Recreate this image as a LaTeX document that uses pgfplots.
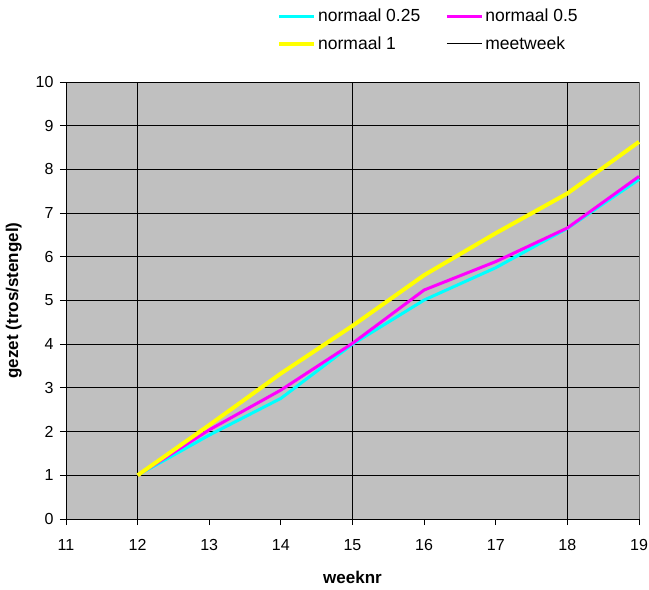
\documentclass[border=0pt]{standalone}
\usepackage{pgfplots}
\pgfplotsset{compat=1.18}
\usepackage{fontspec}
\setmainfont{Liberation Sans}
\definecolor{plotbg}{HTML}{C0C0C0}
\definecolor{cy}{HTML}{00FFFF}
\definecolor{mg}{HTML}{FF00FF}
\definecolor{yl}{HTML}{FFFF00}
\begin{document}
\begin{tikzpicture}
\begin{axis}[
  name=ax,
  scale only axis, width=573bp, height=437bp,
  xmin=11, xmax=19, ymin=0, ymax=10,
  xtick={11,...,19}, ytick={0,...,10},
  axis lines=left, axis line style={-, black, line width=0.8bp},
  axis background/.style={fill=plotbg, draw=gray!80!black},
  ymajorgrids, grid style={black, line width=0.8bp},
  tick align=outside, major tick length=6bp, tick style={black, line width=0.8bp},
  /pgf/number format/assume math mode=true,
  tick label style={font=\fontsize{16bp}{19bp}\selectfont},
  xticklabel style={yshift=-11bp},
  yticklabel style={xshift=-3bp},
  label style={font=\fontsize{17bp}{20bp}\selectfont\bfseries},
  xlabel={weeknr}, ylabel={gezet (tros/stengel)},
  xlabel style={yshift=-13bp},
  ylabel style={yshift=7bp},
  legend columns=2,
  legend cell align=left,
  legend style={draw=none, fill=none, at={(rel axis cs:0,1)}, anchor=north west,
    xshift=208bp, yshift=77bp, row sep=9.5bp,
    font=\fontsize{17.5bp}{21bp}\selectfont,
    /tikz/every even column/.append style={column sep=23bp}},
  legend image code/.code={\draw[#1] (0bp,0bp) -- (35bp,0bp);},
  clip=false,
]
\addplot[black, line width=1.4bp, forget plot] coordinates {(12,0) (12,10)};
\addplot[black, line width=1.4bp, forget plot] coordinates {(15,0) (15,10)};
\addplot[black, line width=1.4bp, forget plot] coordinates {(18,0) (18,10)};
\addplot[cy, line width=3bp] coordinates {
 (12,1) (13,1.92) (14,2.76) (15,4.0) (16,5.01) (17,5.75) (18,6.65) (19,7.77)};
\addlegendentry{normaal 0.25}
\addplot[mg, line width=3bp] coordinates {
 (12,1) (13,2.04) (14,2.95) (15,4.02) (16,5.24) (17,5.89) (18,6.66) (19,7.84)};
\addlegendentry{normaal 0.5}
\addplot[yl, line width=4bp] coordinates {
 (12,1) (13,2.15) (14,3.33) (15,4.42) (16,5.58) (17,6.54) (18,7.45) (19,8.63)};
\addlegendentry{normaal 1}
\addlegendimage{black, line width=1bp}
\addlegendentry{meetweek}
\end{axis}
\pgfresetboundingbox
\path ([xshift=-66bp,yshift=-71bp]ax.south west) rectangle ([xshift=10bp,yshift=82bp]ax.north east);
\end{tikzpicture}
\end{document}
